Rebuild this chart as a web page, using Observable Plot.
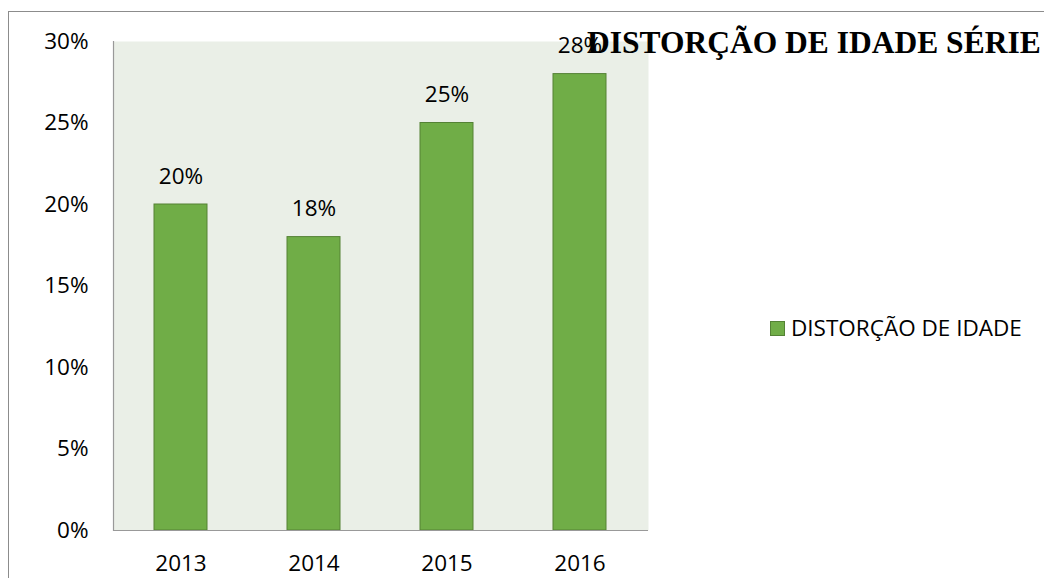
<!DOCTYPE html>
<html>
<head>
<meta charset="utf-8">
<script src="https://cdn.jsdelivr.net/npm/d3@7"></script>
<script src="https://cdn.jsdelivr.net/npm/@observablehq/plot@0.6"></script>
<style>
  html, body { margin: 0; padding: 0; background: #fff; overflow: hidden; width: 1044px; height: 578px; }
  #wrap { position: relative; width: 1044px; height: 578px; }
  #border { position: absolute; left: 8px; top: 11px; width: 1100px; height: 700px; border: 1px solid #8c8c8c; box-sizing: border-box; }
  #chart { position: absolute; left: 0; top: 0; }
  #title { position: absolute; left: 587px; top: 27px; font-family: "Liberation Serif", "DejaVu Serif", serif; font-weight: bold; font-size: 31.5px; line-height: 31.5px; color: #000; white-space: nowrap; }
  #legend { position: absolute; left: 770px; top: 315px; font-family: "Open Sans", Lato, sans-serif; font-size: 22.5px; line-height: 26px; color: #000; display: flex; align-items: center; white-space: nowrap; }
  #legend .sw { width: 15px; height: 15px; background: #70ad47; border: 1px solid #548235; box-sizing: border-box; margin-right: 6px; }
</style>
</head>
<body>
<div id="wrap">
  <div id="border"></div>
  <div id="chart"></div>
  <div id="title"></div>
  <div id="legend"><span class="sw"></span><span id="legtext"></span></div>
</div>
<script>
const years = ["2013", "2014", "2015", "2016"];
const values = [0.20, 0.18, 0.25, 0.28];
const yTicks = [0, 0.05, 0.10, 0.15, 0.20, 0.25, 0.30];
const seriesName = "DISTORÇÃO DE IDADE";
const titleText = "DISTORÇÃO DE IDADE SÉRIE";

const data = years.map((y, i) => ({year: y, value: values[i]}));
const pct = d3.format(".0%");

const chart = Plot.plot({
  width: 1044,
  height: 578,
  marginLeft: 113,
  marginRight: 396,
  marginTop: 41,
  marginBottom: 48,
  style: {fontFamily: "'Open Sans', Lato, sans-serif", fontSize: "22.5px", color: "#000", background: "transparent", overflow: "visible"},
  x: {domain: years, paddingInner: 0.6, paddingOuter: 0.3, label: null},
  y: {domain: [0, 0.30], label: null},
  marks: [
    Plot.frame({fill: "#eaefe7", stroke: null}),
    Plot.axisY({ticks: yTicks, tickFormat: pct, tickSize: 0, tickPadding: 25, fontSize: 22.5, label: null}),
    Plot.axisX({tickSize: 0, tickPadding: 25, fontSize: 22.5, label: null}),
    Plot.barY(data, {x: "year", y: "value", fill: "#70ad47", stroke: "#548235", strokeWidth: 1}),
    Plot.ruleY([0], {stroke: "#999", strokeWidth: 1.2}),
    Plot.frame({anchor: "left", stroke: "#999", strokeWidth: 1.2}),
    Plot.text(data, {x: "year", y: "value", text: d => pct(d.value), dy: -28, fontSize: 22.5, fill: "#000"})
  ]
});
document.getElementById("chart").appendChild(chart);
document.getElementById("title").textContent = titleText;
document.getElementById("legtext").textContent = seriesName;
</script>
</body>
</html>
